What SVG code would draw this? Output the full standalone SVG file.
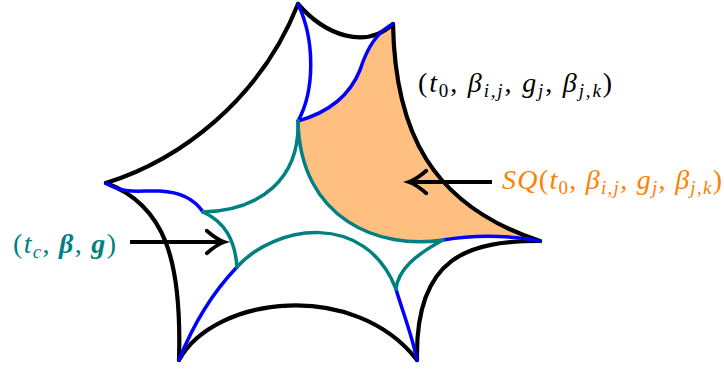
<svg xmlns="http://www.w3.org/2000/svg" width="724" height="370" viewBox="0 0 724 370">
<style>
.k{fill:none;stroke:#000;stroke-width:4.2;stroke-linejoin:round;stroke-linecap:round}
.b{fill:none;stroke:#0000FF;stroke-width:3.5;stroke-linecap:round}
.t{fill:none;stroke:#008080;stroke-width:3.5;stroke-linecap:round}
.ar{fill:none;stroke:#000;stroke-width:4}
</style>
<defs>
<marker id="ah" markerUnits="userSpaceOnUse" markerWidth="30" markerHeight="30" refX="0" refY="0" viewBox="-16 -12 20 24" orient="auto">
<path d="M-13,-9 Q-5,-2 1,0 Q-5,2 -13,9" fill="none" stroke="#000" stroke-width="3" stroke-linecap="round"/>
</marker>
</defs>
<g id="region">
<path d="M298,121 C300,220 380,250 443,240 Q490,232 540,241 C430,205 395,130 393,24 C380,30 368,45 360,70 C350,95 330,112 298,121 Z" fill="#FFBF80"/>
</g>
<g id="outer">
<path class="k" d="M106,183 C180,160 260,100 298,4"/>
<path class="k" d="M298,4 C325,35 365,50 393,24"/>
<path class="k" d="M393,24 C395,130 430,205 540,241"/>
<path class="k" d="M540,241 C470,241 415,255 417,360"/>
<path class="k" d="M179,360 C215,295 355,280 417,360"/>
<path class="k" d="M179,360 C182,260 165,205 106,183"/>
</g>
<g id="blue">
<path class="b" d="M298,4 C315,40 315,90 298,121"/>
<path class="b" d="M298,121 C330,112 350,95 360,70 C368,45 380,30 393,24"/>
<path class="b" d="M106,183 C125,195 140,190 160,191 C180,192 195,200 203,212"/>
<path class="b" d="M179,360 C195,320 215,290 237,267"/>
<path class="b" d="M443,240 Q490,232 540,241"/>
<path class="b" d="M396,289 C402,310 412,335 417,360"/>
</g>
<g id="teal">
<path class="t" d="M298,121 C300,180 260,210 203,212"/>
<path class="t" d="M298,121 C300,220 380,250 443,240"/>
<path class="t" d="M203,212 C225,222 235,240 237,267"/>
<path class="t" d="M237,267 C275,225 365,210 396,289"/>
<path class="t" d="M396,289 C398,270 415,255 443,240"/>
</g>
<g id="connectors">
<path class="ar" d="M492,182 L410,182" marker-end="url(#ah)"/>
<path class="ar" d="M130,242 L223,242" marker-end="url(#ah)"/>
</g>
<g id="label-tuple">
<text x="418" y="92" fill="#000" font-family="'Liberation Serif', 'DejaVu Serif', serif" font-size="28" textLength="194" lengthAdjust="spacing">(<tspan font-style="italic">t</tspan><tspan font-size="19" dy="5">0</tspan><tspan dy="-5">, </tspan><tspan font-style="italic">β</tspan><tspan font-size="19" font-style="italic" dy="5">i,j</tspan><tspan dy="-5">, </tspan><tspan font-style="italic">g</tspan><tspan font-size="19" font-style="italic" dy="5">j</tspan><tspan dy="-5">, </tspan><tspan font-style="italic">β</tspan><tspan font-size="19" font-style="italic" dy="5">j,k</tspan><tspan dy="-5">)</tspan></text>
</g>
<g id="label-sq">
<text x="502" y="189" fill="#FF8000" font-family="'Liberation Serif', 'DejaVu Serif', serif" font-size="28" textLength="220" lengthAdjust="spacing"><tspan font-style="italic">SQ</tspan>(<tspan font-style="italic">t</tspan><tspan font-size="19" dy="5">0</tspan><tspan dy="-5">, </tspan><tspan font-style="italic">β</tspan><tspan font-size="19" font-style="italic" dy="5">i,j</tspan><tspan dy="-5">, </tspan><tspan font-style="italic">g</tspan><tspan font-size="19" font-style="italic" dy="5">j</tspan><tspan dy="-5">, </tspan><tspan font-style="italic">β</tspan><tspan font-size="19" font-style="italic" dy="5">j,k</tspan><tspan dy="-5">)</tspan></text>
</g>
<g id="label-tc">
<text x="13" y="253" fill="#008080" font-family="'Liberation Serif', 'DejaVu Serif', serif" font-size="28" textLength="103" lengthAdjust="spacing">(<tspan font-style="italic">t</tspan><tspan font-size="19" font-style="italic" dy="5">c</tspan><tspan dy="-5">, </tspan><tspan font-style="italic" font-weight="bold">β</tspan>, <tspan font-style="italic" font-weight="bold">g</tspan>)</text>
</g>
</svg>
